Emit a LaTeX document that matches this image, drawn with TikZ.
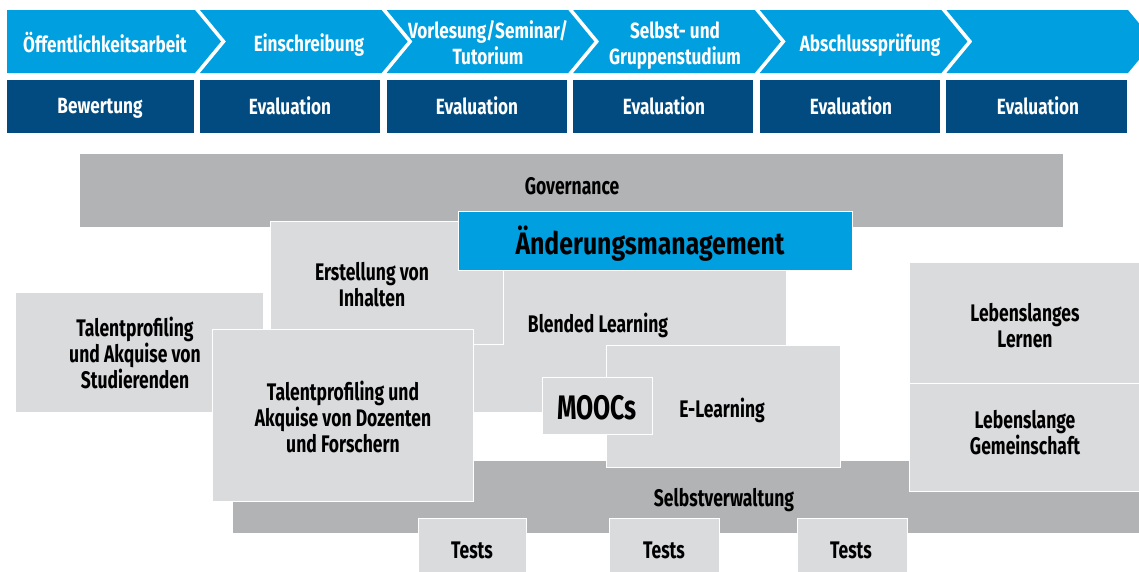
\documentclass[tikz,border=0pt]{standalone}
\usepackage{fontspec}
\setmainfont{Fira Sans}[FakeStretch=0.8]
\newfontfamily\fuentefase{Fira Sans}[FakeStretch=0.78]
\newfontfamily\fuenteangosta{Fira Sans}[FakeStretch=0.73]
\usepackage{tikz}

\definecolor{azulclaro}{HTML}{009FE0}
\definecolor{azuloscuro}{HTML}{024B80}
\definecolor{grisoscuro}{HTML}{B2B3B5}
\definecolor{grisclaro}{HTML}{DADBDD}

\tikzset{
  caja/.style={fill=grisclaro, draw=white, line width=1pt},
  banda/.style={fill=grisoscuro},
  rotulo/.style={font=\fuenteangosta\fontsize{24}{26}\selectfont\bfseries, align=center, text=black, inner sep=0pt, text depth=0pt},
  fase/.style={font=\fuentefase\fontsize{22}{26}\selectfont\bfseries, align=center, text=white, inner sep=0pt, text depth=0pt}
}

\begin{document}
\begin{tikzpicture}[x=1pt,y=-1pt]
		\useasboundingbox (0,0) rectangle (1139,571);

		%Fases
		\foreach \i in {0,...,5}{
			\pgfmathsetmacro{\R}{195+186.6*\i}
			\pgfmathsetmacro{\L}{\i==0 ? 7 : \R-181.6}
			\pgfmathsetmacro{\N}{\i==0 ? 7 : \L+26}
			\fill[azulclaro] (\L,10) -- (\R,10) -- (\R+26,41.5) -- (\R,73) -- (\L,73) -- (\N,41.5) -- cycle;
			\fill[azuloscuro] (\L,80) rectangle (\R-1.5,133);
		}
		\node [fase] (fase1) at (105,42.5) {Öffentlichkeitsarbeit};
		\node [fase] (fase2) at (309,42.5) {Einschreibung};
		\node [fase] (fase3) at (488,43) {Vorlesung/Seminar/\\Tutorium};
		\node [fase] (fase4) at (675,43) {Selbst- und\\Gruppenstudium};
		\node [fase] (fase5) at (870,42.5) {Abschlussprüfung};
		\node [fase] (eval1) at (100,106) {Bewertung};
		\node [fase] (eval2) at (290,106) {Evaluation};
		\node [fase] (eval3) at (477,106) {Evaluation};
		\node [fase] (eval4) at (664,106) {Evaluation};
		\node [fase] (eval5) at (851,106) {Evaluation};
		\node [fase] (eval6) at (1038,106) {Evaluation};

		%Cajas
		\fill[banda] (80,154) rectangle (1063,227);
		\fill[banda] (233,461) rectangle (1145,533);
		\filldraw[caja] (15,292) rectangle (263,412);
		\filldraw[caja] (440,250) rectangle (786,412);
		\filldraw[caja] (270,221) rectangle (503,344);
		\filldraw[caja, fill=azulclaro] (458,211) rectangle (852,270);
		\filldraw[caja] (212,329) rectangle (473,501);
		\filldraw[caja] (606,345) rectangle (840,467);
		\filldraw[caja] (542,377) rectangle (652,434);
		\filldraw[caja] (418,518) rectangle (526,580);
		\filldraw[caja] (609,518) rectangle (719,580);
		\filldraw[caja] (797,518) rectangle (907,580);
		\filldraw[caja] (909,262) rectangle (1150,383);
		\filldraw[caja] (909,383) rectangle (1150,491);

		%Textos
		\node [rotulo] (governance) at (572,186) {Governance};
		\node [rotulo, font=\fontsize{31}{34}\selectfont\bfseries] (aenderung) at (650,240) {Änderungsmanagement};
		\node [rotulo] (erstellung) at (372,284) {Erstellung von\\Inhalten};
		\node [rotulo] (studierende) at (135,353) {Talentprofiling\\und Akquise von\\Studierenden};
		\node [rotulo] (blended) at (598,323) {Blended Learning};
		\node [rotulo] (dozenten) at (343,417) {Talentprofiling und\\Akquise von Dozenten\\und Forschern};
		\node [rotulo, font=\fuenteangosta\fontsize{34}{36}\selectfont\bfseries] (moocs) at (597,407) {MOOCs};
		\node [rotulo] (elearning) at (722,408) {E-Learning};
		\node [rotulo] (lernen) at (1025,325) {Lebenslanges\\Lernen};
		\node [rotulo] (gemeinschaft) at (1025,432) {Lebenslange\\Gemeinschaft};
		\node [rotulo] (selbst) at (724,497) {Selbstverwaltung};
		\node [rotulo] (tests1) at (472,550) {Tests};
		\node [rotulo] (tests2) at (664,550) {Tests};
		\node [rotulo] (tests3) at (851,550) {Tests};
\end{tikzpicture}
\end{document}
